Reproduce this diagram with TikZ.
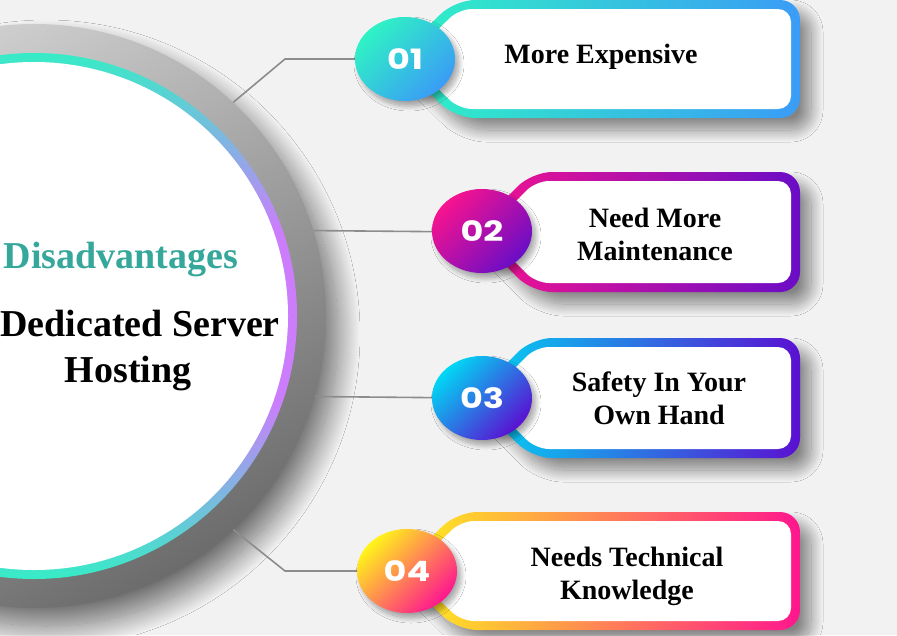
\documentclass[tikz,border=0pt]{standalone}
\usepackage{fontspec}
\setmainfont{Liberation Serif}
\newfontfamily\badgefont{Poppins}[FakeStretch=1.25]
\usetikzlibrary{positioning, shapes.geometric, shadows.blur}

\definecolor{bggray}{HTML}{F2F2F2}
\definecolor{ringteal}{HTML}{36ECC6}
\definecolor{ringviolet}{HTML}{CC7DFC}
\definecolor{shadelight}{HTML}{D2D2D2}
\definecolor{shadedark}{HTML}{6C6C6C}
\definecolor{titleteal}{HTML}{36A79B}
\definecolor{linkgray}{HTML}{8C8C8C}
\definecolor{oneA}{HTML}{2FF3C4}
\definecolor{oneB}{HTML}{3A9CF6}
\definecolor{twoA}{HTML}{F7138F}
\definecolor{twoB}{HTML}{6A0DC6}
\definecolor{threeA}{HTML}{00D8F4}
\definecolor{threeB}{HTML}{5A10D2}
\definecolor{fourA}{HTML}{FFF51A}
\definecolor{fourB}{HTML}{FF168E}

\pgfdeclareverticalshading{ringshade}{100bp}{color(0bp)=(ringteal); color(25bp)=(ringteal); color(42bp)=(ringviolet); color(58bp)=(ringviolet); color(75bp)=(ringteal); color(100bp)=(ringteal)}

\begin{document}
\begin{tikzpicture}[%
		x=1pt, y=-1pt,
		hub/.style={
			circle,
			minimum size=584pt,
			inner sep=0pt,
			top color=shadelight,
			bottom color=shadedark,
			shading angle=30,
			blur shadow={shadow xshift=12pt, shadow yshift=-18pt, shadow blur radius=22pt, shadow blur steps=40, shadow opacity=55}
		},
		badge/.style 2 args={
			ellipse,
			minimum width=100pt,
			minimum height=84pt,
			inner sep=0pt,
			left color=#1,
			right color=#2,
			shading angle=45,
			text=white,
			font=\badgefont\bfseries\fontsize{28}{28}\selectfont,
			blur shadow={shadow xshift=4pt, shadow yshift=-5pt, shadow blur radius=5pt, shadow blur steps=12, shadow opacity=35}
		},
		tagrim/.style 2 args={
			left color=#1,
			right color=#2,
			rounded corners=20pt,
			blur shadow={shadow xshift=11pt, shadow yshift=-12pt, shadow blur radius=12pt, shadow blur steps=30, shadow opacity=45}
		},
		tagface/.style={
			fill=white,
			rounded corners=13pt
		},
		point/.style={
			font=\bfseries\fontsize{28}{33}\selectfont,
			align=center,
			text=black
		},
		link/.style={
			linkgray,
			line width=1.6pt
		}]

		\useasboundingbox (0,0) rectangle (897,635);
		\clip (0,0) rectangle (897,635);
		\fill[bggray] (0,0) rectangle (897,635);

		% HUB

		\node (hub) [hub] at (34,316) {};
		\shade[shading=ringshade] (hub.center) circle[radius=263];
		\fill[white] (hub.center) circle[radius=254];

		\node (title) [anchor=base, titleteal, font=\bfseries\fontsize{38}{38}\selectfont] at (121,268) {Disadvantages};
		\node (subject) [anchor=base, font=\bfseries\fontsize{38}{38}\selectfont] at (140,336) {Dedicated Server};
		\node (subject2) [anchor=base, font=\bfseries\fontsize{38}{38}\selectfont] at (128,382) {Hosting};

		% TAGS

		\path[tagrim={oneA}{oneB}] (395,59) -- (455,0) -- (800,0) -- (800,118) -- (455,118) -- cycle;
		\path[tagface] (408,59) -- (459,9) -- (791,9) -- (791,109) -- (459,109) -- cycle;

		\path[tagrim={twoA}{twoB}] (472,232) -- (532,172) -- (800,172) -- (800,292) -- (532,292) -- cycle;
		\path[tagface] (485,232) -- (536,181) -- (791,181) -- (791,283) -- (536,283) -- cycle;

		\path[tagrim={threeA}{threeB}] (472,398) -- (532,338) -- (800,338) -- (800,458) -- (532,458) -- cycle;
		\path[tagface] (485,398) -- (536,347) -- (791,347) -- (791,449) -- (536,449) -- cycle;

		\path[tagrim={fourA}{fourB}] (397,571) -- (457,512) -- (800,512) -- (800,630) -- (457,630) -- cycle;
		\path[tagface] (410,571) -- (461,521) -- (791,521) -- (791,621) -- (461,621) -- cycle;

		% CONNECTORS

		\coordinate (knee1) at (285,59);
		\coordinate (knee4) at (285,571);

		\draw[link] (hub.47.6) -- (knee1) -- (395,59);
		\draw[link] (hub.17) -- (472,232);
		\draw[link] (hub.-16) -- (472,398);
		\draw[link] (hub.-47.5) -- (knee4) -- (397,571);

		% BADGES

		\node (b1) [badge={oneA}{oneB}] at (405,59) {01};
		\node (b2) [badge={twoA}{twoB}] at (482,231) {02};
		\node (b3) [badge={threeA}{threeB}] at (482,398) {03};
		\node (b4) [badge={fourA}{fourB}] at (407,571) {04};

		% TEXTS

		\node (t1) [point, anchor=base] at (601,63) {More Expensive};
		\node (t2) [point] at (655,234) {Need More\\Maintenance};
		\node (t3) [point] at (659,398) {Safety In Your\\Own Hand};
		\node (t4) [point] at (627,576) {Needs Technical\\Knowledge};
\end{tikzpicture}
\end{document}
